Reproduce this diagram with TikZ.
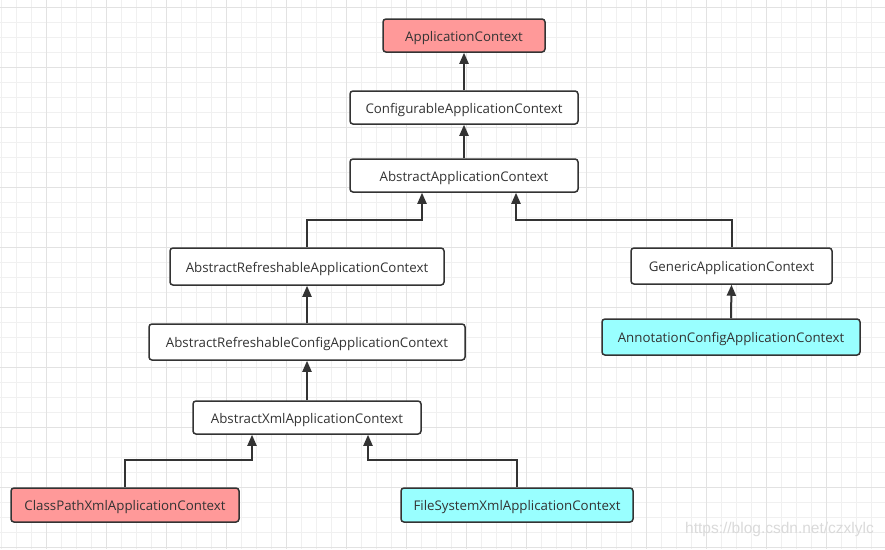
\documentclass[tikz,border=0pt]{standalone}
\usepackage{fontspec}
\setmainfont{Open Sans}
\newfontfamily\wmfont{Liberation Sans}
\usetikzlibrary{arrows.meta}
\definecolor{pinkfill}{HTML}{FF9999}
\definecolor{cyanfill}{HTML}{99FFFF}
\definecolor{darkline}{HTML}{333333}
\definecolor{gridminor}{HTML}{F0F0F0}
\definecolor{gridmajor}{HTML}{E2E2E2}
\definecolor{wmcolor}{HTML}{DADADA}
\tikzset{
  cls/.style={draw=darkline, line width=1.5pt, rounded corners=3pt, fill=white,
    text=darkline, font=\fontsize{13.3}{15}\selectfont, inner sep=0pt,
    text height=11pt, text depth=0pt, anchor=center},
  pinkcls/.style={cls, fill=pinkfill},
  cyancls/.style={cls, fill=cyanfill},
  arr/.style={draw=darkline, line width=2pt, -{Triangle[length=11pt,width=9pt]}},
}
\begin{document}
\begin{tikzpicture}[x=1pt,y=-1pt]
\useasboundingbox (0,0) rectangle (885,549);
\fill[white] (0,0) rectangle (885,549);
% grid
\foreach \x in {1,16,...,885} \draw[gridminor, line width=1pt] (\x,0) -- (\x,549);
\foreach \y in {7,22,...,549} \draw[gridminor, line width=1pt] (0,\y) -- (885,\y);
\foreach \x in {46,106,...,885} \draw[gridmajor, line width=1pt] (\x,0) -- (\x,549);
\foreach \y in {7,67,...,549} \draw[gridmajor, line width=1pt] (0,\y) -- (885,\y);
% watermark
\node[text=wmcolor, font=\wmfont\fontsize{15.5}{17}\selectfont, anchor=center] (wm) at (779.5,529) {https://blog.csdn.net/czxlylc};
% nodes
\node[pinkcls, minimum width=162pt, minimum height=33pt] (ac) at (464,35.5) {ApplicationContext};
\node[cls, minimum width=228pt, minimum height=33pt] (cac) at (464,107.5) {ConfigurableApplicationContext};
\node[cls, minimum width=228pt, minimum height=33pt] (aac) at (464,175.5) {AbstractApplicationContext};
\node[cls, minimum width=274pt, minimum height=37pt] (arac) at (307,266.5) {AbstractRefreshableApplicationContext};
\node[cls, minimum width=201pt, minimum height=36pt] (gac) at (731.5,266) {GenericApplicationContext};
\node[cls, minimum width=316pt, minimum height=36pt] (arcac) at (307,342) {AbstractRefreshableConfigApplicationContext};
\node[cyancls, minimum width=258pt, minimum height=36pt] (anno) at (731,337) {AnnotationConfigApplicationContext};
\node[cls, minimum width=228pt, minimum height=33pt] (axac) at (307,417.5) {AbstractXmlApplicationContext};
\node[pinkcls, minimum width=228pt, minimum height=34pt] (cpx) at (125,505) {ClassPathXmlApplicationContext};
\node[cyancls, minimum width=232pt, minimum height=34pt] (fsx) at (517,505) {FileSystemXmlApplicationContext};
% junctions
\coordinate (j1) at (422,220);
\coordinate (j2) at (516,220);
\coordinate (j3) at (252,460);
\coordinate (j4) at (368,460);
% edges
\draw[arr] (cac.north) -- (ac.south);
\draw[arr] (aac.north) -- (cac.south);
\draw[arr] (arac.north) |- (j1) -- (j1 |- aac.south);
\draw[arr] (gac.north) |- (j2) -- (j2 |- aac.south);
\draw[arr] (arcac.north) -- (arac.south);
\draw[arr] (axac.north) -- (arcac.south);
\draw[arr] (anno.north) -- (gac.south);
\draw[arr] (cpx.north) |- (j3) -- (j3 |- axac.south);
\draw[arr] (fsx.north) |- (j4) -- (j4 |- axac.south);
\end{tikzpicture}
\end{document}
